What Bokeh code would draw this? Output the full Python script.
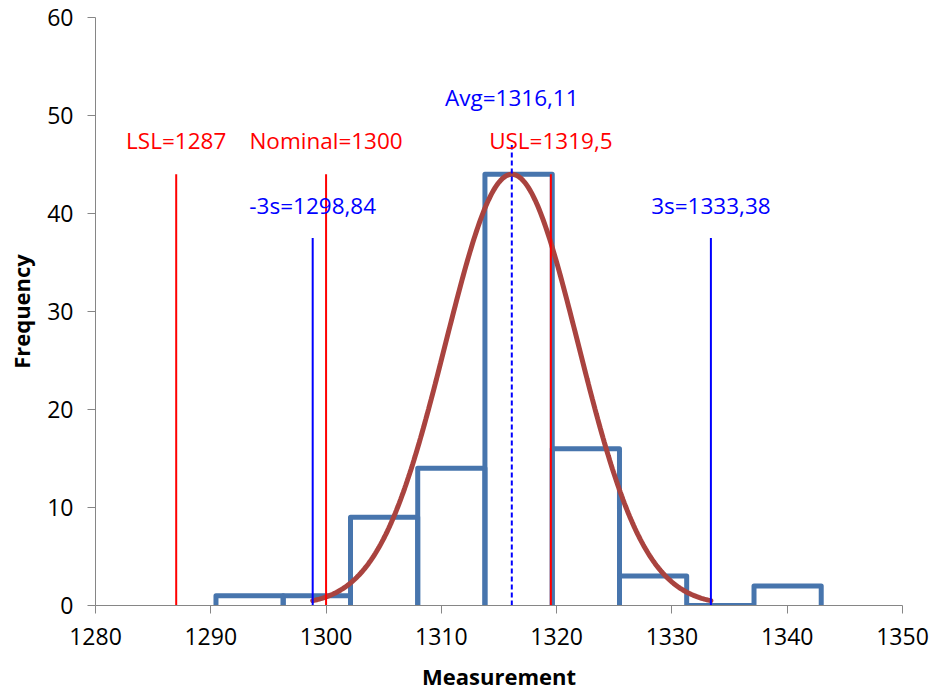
import numpy as np
from bokeh.plotting import figure
from bokeh.models import ColumnDataSource, FixedTicker, Range1d
from bokeh.core.properties import value
from bokeh.embed import file_html
from bokeh.resources import INLINE

# ---- data ----
bin_edges = [1290.45, 1296.28, 1302.12, 1307.95, 1313.78, 1319.62, 1325.45, 1331.28, 1337.12, 1342.95]
counts = [1, 1, 9, 14, 44, 16, 3, 0, 2]

spec_names = ["LSL", "Nominal", "USL"]
spec_values = [1287, 1300, 1319.5]

sigma_names = ["-3s", "3s"]
sigma_values = [1298.84, 1333.38]

avg_value = 1316.11

x_ticks = [1280, 1290, 1300, 1310, 1320, 1330, 1340, 1350]
y_ticks = [0, 10, 20, 30, 40, 50, 60]

FONT = "Open Sans"
BLUE_BAR = "#4775AD"
CURVE = "#A9433F"


def fmt(v):
    return ("%g" % v).replace(".", ",")


p = figure(width=930, height=694, output_backend="svg", toolbar_location=None,
           x_range=Range1d(1280, 1350), y_range=Range1d(0, 60),
           min_border_left=95, min_border_right=28, min_border_top=17, min_border_bottom=89)
p.outline_line_color = None
p.xgrid.visible = False
p.ygrid.visible = False
p.background_fill_color = "white"
p.border_fill_color = "white"

# histogram drawn as open bars
xs, ys = [], []
for i, c in enumerate(counts):
    l, r = bin_edges[i], bin_edges[i + 1]
    xs.append([l, l, r, r])
    ys.append([0, c, c, 0])
p.multi_line(xs=xs, ys=ys, line_color=BLUE_BAR, line_width=5, line_join="round")

# fitted normal curve from the chart's Avg and 3s values
sigma = (sigma_values[1] - avg_value) / 3.0
cx = np.linspace(sigma_values[0], sigma_values[1], 300)
cy = max(counts) * np.exp(-0.5 * ((cx - avg_value) / sigma) ** 2)
p.line(cx, cy, line_color=CURVE, line_width=5, line_cap="round")

# spec lines (red)
spec_top = max(counts)
p.segment(x0=spec_values, y0=[0] * len(spec_values), x1=spec_values, y1=[spec_top] * len(spec_values),
          line_color="#FF0000", line_width=2)
# sigma lines (blue)
p.segment(x0=sigma_values, y0=[0, 0], x1=sigma_values, y1=[37.5, 37.5],
          line_color="#0000FF", line_width=2)
# average line (blue dashed)
p.segment(x0=[avg_value], y0=[0], x1=[avg_value], y1=[47], line_color="#0000FF",
          line_width=2, line_dash="5 3")

# labels
spec_src = ColumnDataSource(dict(x=spec_values, y=[47.4] * 3,
                                 t=["%s=%s" % (n, fmt(v)) for n, v in zip(spec_names, spec_values)]))
p.text(x="x", y="y", text="t", source=spec_src, text_color="#FF0000", text_font=value(FONT),
       text_font_size="22.5px", text_align="center", text_baseline="middle")
sig_src = ColumnDataSource(dict(x=sigma_values, y=[40.8] * 2,
                                t=["%s=%s" % (n, fmt(v)) for n, v in zip(sigma_names, sigma_values)]))
p.text(x="x", y="y", text="t", source=sig_src, text_color="#0000FF", text_font=value(FONT),
       text_font_size="22.5px", text_align="center", text_baseline="middle")
p.text(x=[avg_value], y=[51.8], text=["Avg=%s" % fmt(avg_value)], text_color="#0000FF",
       text_font=value(FONT), text_font_size="22.5px", text_align="center", text_baseline="middle")

# axes
for ax in (p.xaxis[0], p.yaxis[0]):
    ax.axis_line_color = "#868686"
    ax.major_tick_line_color = "#868686"
    ax.minor_tick_line_color = None
    ax.major_tick_in = 0
    ax.major_tick_out = 8
    ax.major_label_text_font = FONT
    ax.major_label_text_font_size = "23px"
    ax.major_label_text_color = "black"
    ax.axis_label_text_font = FONT
    ax.axis_label_text_font_size = "22px"
    ax.axis_label_text_font_style = "bold"
    ax.axis_label_text_color = "black"
    ax.major_label_standoff = 14

p.xaxis.ticker = FixedTicker(ticks=x_ticks)
p.yaxis.ticker = FixedTicker(ticks=y_ticks)
p.xaxis.axis_label = "Measurement"
p.yaxis.axis_label = "Frequency"
p.xaxis.axis_label_standoff = 13
p.yaxis.axis_label_standoff = 8

open("out.html", "w").write(file_html(p, INLINE))
